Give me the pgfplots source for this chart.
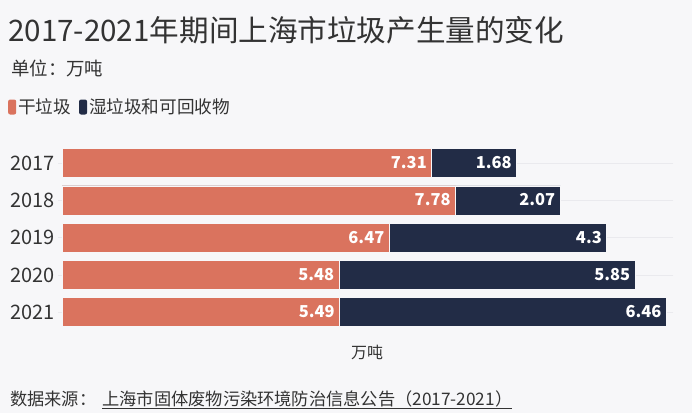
\documentclass[border=0pt]{standalone}
\usepackage{pgfplots}
\pgfplotsset{compat=1.18}
\usepackage{pgfplotstable}
\usepackage{fontspec}
\setmainfont{Noto Sans CJK SC}

\definecolor{bg}{HTML}{F7F7F9}
\definecolor{dry}{HTML}{DA735E}
\definecolor{wet}{HTML}{222C46}
\definecolor{ink}{HTML}{333333}
\definecolor{gridc}{HTML}{EAEAEE}

% 干垃圾, 湿垃圾和可回收物 and their sum (万吨)
\pgfplotstableread{
year dry wet total
2017 7.31 1.68 8.99
2018 7.78 2.07 9.85
2019 6.47 4.30 10.77
2020 5.48 5.85 11.33
2021 5.49 6.46 11.95
}\garbage

\begin{document}
\begin{tikzpicture}
\fill[bg] (0,0) rectangle (692bp,-413bp);

\node[anchor=base west, inner sep=0pt, text=ink, font=\fontsize{29.7}{34}\selectfont]
  at (8bp,-41bp) {2017-2021年期间上海市垃圾产生量的变化};
\node[anchor=base west, inner sep=0pt, text=ink, font=\fontsize{18.5}{21}\selectfont]
  at (11bp,-75bp) {单位：万吨};

\begin{axis}[
    at={(62bp,-331bp)}, anchor=south west,
    scale only axis,
    width=607bp, height=186.5bp,
    xbar, bar shift=0pt,
    bar width=29bp,
    xmin=0, xmax=12,
    ymin=2016.5, ymax=2021.5,
    y dir=reverse,
    axis line style={draw=none},
    xtick=\empty,
    ytick={2017,...,2021},
    yticklabel={\pgfmathprintnumber[assume math mode=true, 1000 sep={}, fixed, precision=0]{\tick}},
    yticklabel style={text=ink, font=\fontsize{20}{23}\selectfont},
    ytick style={draw=gridc, line width=0.8bp},
    tick align=outside,
    major tick length=4bp,
    ymajorgrids,
    grid style={gridc, line width=0.8bp},
    point meta=explicit,
    nodes near coords={\makebox[0pt][r]{\pgfmathprintnumber[assume math mode=true]{\pgfplotspointmeta}}},
    every node near coord/.append style={inner sep=0pt, xshift=-5bp, yshift=-6bp,
        text=white, font=\bfseries\fontsize{16.5}{19}\selectfont},
    legend columns=2,
    legend cell align=left,
    legend style={at={(-0.089,1.201)}, anchor=west, draw=none, fill=none,
        inner sep=0pt, text=ink, font=\fontsize{17.7}{20}\selectfont,
        /tikz/every even column/.append style={column sep=6bp}},
    legend image code/.code={\fill[#1, draw=none, rounded corners=2bp]
        (0bp,-7.5bp) rectangle (8bp,7.5bp);},
]
\addlegendimage{fill=dry}
\addlegendentry{干垃圾}
\addlegendimage{fill=wet}
\addlegendentry{湿垃圾和可回收物}
\addplot[forget plot, fill=wet, draw=bg, line width=0.8bp] table[x=total, y=year, meta=wet] {\garbage};
\addplot[forget plot, fill=dry, draw=bg, line width=0.8bp] table[x=dry, y=year, meta=dry] {\garbage};
\end{axis}

\node[anchor=base, inner sep=0pt, text=ink, font=\fontsize{16}{19}\selectfont]
  at (367bp,-358bp) {万吨};
\node[anchor=base west, inner sep=0pt, text=ink, font=\fontsize{17.3}{20}\selectfont]
  at (10bp,-405bp) {数据来源：\hspace{6bp}\underline{上海市固体废物污染环境防治信息公告（2017-2021）}};

\pgfresetboundingbox
\useasboundingbox (0,0) rectangle (692bp,-413bp);
\end{tikzpicture}
\end{document}
